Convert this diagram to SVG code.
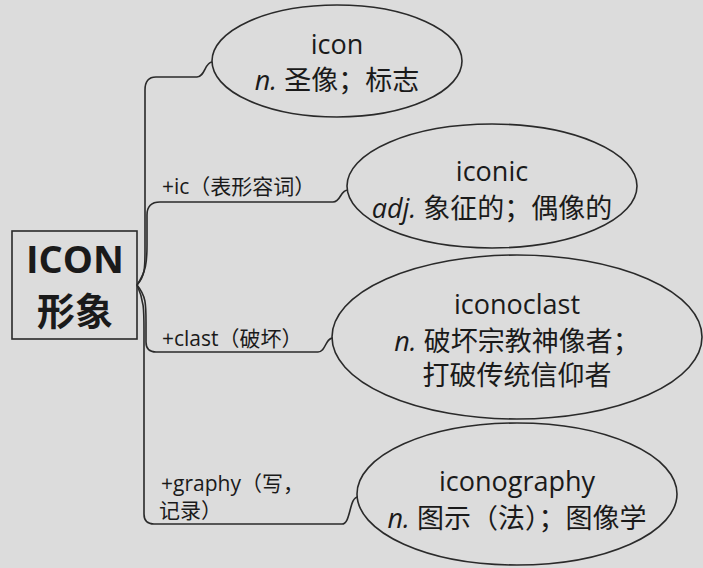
<svg xmlns="http://www.w3.org/2000/svg" width="703" height="568" viewBox="0 0 703 568">
<style>
.bg{fill:#dcdcdc}
.n{fill:none;stroke:#2a2a2a;stroke-width:1.6}
.c{fill:none;stroke:#2a2a2a;stroke-width:1.6}
text{font-family:"Open Sans","Noto Sans CJK SC",sans-serif;fill:#1a1a1a}
.t{font-size:27px;text-anchor:middle}
.l{font-size:21px}
.r{font-size:38px;font-weight:bold;text-anchor:middle}
</style>
<rect class="bg" width="703" height="568"/>
<g id="connectors">
<path class="c" d="M137,285 C145,276 145,268 145,250 L145,90 Q145,77 156,77 L197,77 C205,77 205,62 212,62"/>
<path class="c" d="M137,285 C146,272 147,262 147,245 L147,215 Q147,202 160,202 L333,202 C341,202 340,190 348,190"/>
<path class="c" d="M137,285 C146,296 146,304 146,322 L146,342 Q146,352 156,352 L318,352 C326,352 325,338 333,338"/>
<path class="c" d="M137,285 C144,300 144,310 144,330 L144,514 Q144,524 154,524 L342,524 C351,524 349,497 358,497"/>
</g>
<g id="root">
<rect class="n" x="12" y="231" width="125" height="108"/>
<text class="r" x="75" y="273">ICON</text>
<text class="r" x="75" y="325">形象</text>
</g>
<g id="label-ic"><text class="l" x="162" y="194">+ic（表形容词）</text></g>
<g id="label-clast"><text class="l" x="162" y="346">+clast（破坏）</text></g>
<g id="label-graphy"><text class="l" x="161" y="491">+graphy（写，</text><text class="l" x="159" y="518">记录）</text></g>
<g id="icon">
<ellipse class="n" cx="337" cy="61" rx="125" ry="56"/>
<text class="t" x="337" y="54">icon</text>
<text class="t" x="337" y="90"><tspan font-style="italic">n.</tspan> 圣像；标志</text>
</g>
<g id="iconic">
<ellipse class="n" cx="492" cy="186" rx="145" ry="62"/>
<text class="t" x="492" y="181">iconic</text>
<text class="t" x="492" y="218"><tspan font-style="italic">adj.</tspan> 象征的；偶像的</text>
</g>
<g id="iconoclast">
<ellipse class="n" cx="517" cy="337" rx="185" ry="82"/>
<text class="t" x="517" y="314">iconoclast</text>
<text class="t" x="517" y="351"><tspan font-style="italic">n.</tspan> 破坏宗教神像者；</text>
<text class="t" x="517" y="385">打破传统信仰者</text>
</g>
<g id="iconography">
<ellipse class="n" cx="517" cy="494" rx="160" ry="71"/>
<text class="t" x="517" y="491">iconography</text>
<text class="t" x="517" y="528"><tspan font-style="italic">n.</tspan> 图示（法）；图像学</text>
</g>
</svg>
